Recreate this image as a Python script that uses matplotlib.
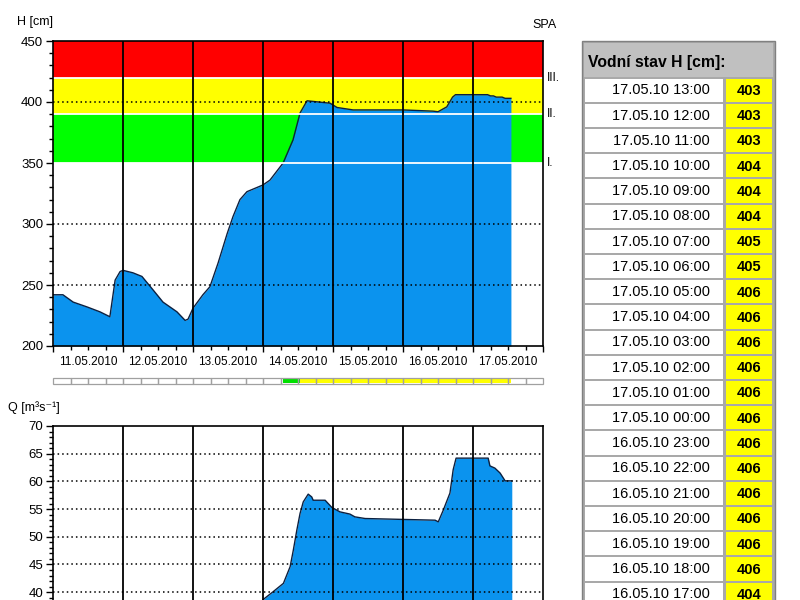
import numpy as np
import matplotlib
matplotlib.use('Agg')
import matplotlib.pyplot as plt
from matplotlib import font_manager
from matplotlib.patches import Rectangle
from matplotlib.ticker import FixedLocator, MultipleLocator, FuncFormatter

names = {f.name for f in font_manager.fontManager.ttflist}
NARROW = 'Liberation Sans Narrow' if 'Liberation Sans Narrow' in names else 'Liberation Sans'
plt.rcParams['font.family'] = ['Liberation Sans', 'DejaVu Sans']

# ---------------- data ----------------
days = ['11.05.2010', '12.05.2010', '13.05.2010', '14.05.2010',
        '15.05.2010', '16.05.2010', '17.05.2010']

# water level H [cm], time in hours from 11.05.2010 00:00
h_t = [0, 3.4, 6.9, 11.7, 16.1, 19.5, 21.3, 23, 24, 27.4, 30.5, 34.3, 37.7,
       42.5, 45.3, 46.3, 48, 51.4, 53.8, 56.6, 59.7, 61.7, 64.1, 66.5, 72,
       74.4, 78.9, 82.3, 84.7, 87.1, 89.1, 95, 97.4, 102.9, 120, 130.3, 132,
       135, 137, 138, 149, 150, 151, 152, 154, 155, 157]
h_v = [242, 242, 236, 232, 228, 224, 254, 261, 262, 260, 257, 246, 236,
       228, 221, 222, 231, 242, 248.6, 268, 292, 306, 320, 326.5, 332,
       336, 350, 369, 391, 401, 400.5, 399, 395.5, 393.5, 393.5, 392.5, 392,
       396, 404, 406, 406, 405, 405, 404, 404, 403, 403]

# discharge Q [m3/s]
q_t = [0, 19.5, 24, 46, 56, 66, 72.1, 75.5, 79, 81.3, 82.4, 83.6, 84.7, 85.8,
       87.5, 88.7, 89.2, 93.3, 95.6, 98.4, 101.8, 103.5, 107, 131, 132.1,
       133.8, 136.1, 137.2, 138.2, 149.2, 149.8, 151.5, 153.3, 155, 157.3]
q_v = [14, 12, 19, 11, 18, 34, 38.7, 40.1, 41.6, 44.6, 47.6, 51.2, 54.2, 56.3,
       57.7, 57.2, 56.6, 56.6, 55.3, 54.5, 54.1, 53.6, 53.3, 53.0, 52.7,
       54.8, 57.9, 62.1, 64.2, 64.2, 62.8, 62.4, 61.5, 60.1, 60.1]

# flood stages (SPA) thresholds
spa_levels = [350, 390, 420]
spa_labels = ['I.', 'II.', 'III.']
spa_colors = ['#00ff00', '#ffff00', '#ff0000']

# table
tab_times = ['17.05.10 13:00', '17.05.10 12:00', '17.05.10 11:00', '17.05.10 10:00',
             '17.05.10 09:00', '17.05.10 08:00', '17.05.10 07:00', '17.05.10 06:00',
             '17.05.10 05:00', '17.05.10 04:00', '17.05.10 03:00', '17.05.10 02:00',
             '17.05.10 01:00', '17.05.10 00:00', '16.05.10 23:00', '16.05.10 22:00',
             '16.05.10 21:00', '16.05.10 20:00', '16.05.10 19:00', '16.05.10 18:00',
             '16.05.10 17:00']
tab_vals = [403, 403, 403, 404, 404, 404, 405, 405, 406, 406, 406, 406, 406,
            406, 406, 406, 406, 406, 406, 406, 404]

BLUE = '#0b93ee'
OUTLINE = '#0b2040'
DOT = (0, (1, 2.0))
NFAM = [NARROW, 'DejaVu Sans']

fig = plt.figure(figsize=(8, 6), dpi=100)

def fbox(x0, y0, x1, y1):
    return [x0 / 800, 1 - y1 / 600, (x1 - x0) / 800, (y1 - y0) / 600]

# ---------------- table (pixel overlay) ----------------
axT = fig.add_axes([0, 0, 1, 1], zorder=-5)
axT.set_xlim(0, 800)
axT.set_ylim(600, 0)
axT.axis('off')
axT.add_patch(Rectangle((582, 41), 193, 600, fc='#a9a9a9', ec='#808080', lw=1))
axT.add_patch(Rectangle((584, 43), 189, 34, fc='#c0c0c0', lw=0))
axT.text(588, 62, 'Vodní stav H [cm]:', fontsize=11.3, fontweight='bold',
         ha='left', va='center', color='black')
pitch = 25.2
for i, (tt, vv) in enumerate(zip(tab_times, tab_vals)):
    top = 78.5 + pitch * i
    axT.add_patch(Rectangle((585, top), 138, 23.3, fc='white', lw=0))
    axT.add_patch(Rectangle((726, top), 46, 23.3, fc='#ffff00', lw=0))
    axT.text(710, top + 12, tt, fontsize=10.5, family=NFAM,
             ha='right', va='center', color='black')
    axT.text(749, top + 12.5, str(vv), fontsize=10.5, fontweight='bold',
             family=NFAM, ha='center', va='center', color='black')

# ---------------- H chart ----------------
axH = fig.add_axes(fbox(53, 41, 543, 346))
axH.set_xlim(0, 168)
axH.set_ylim(200, 450)
lo = spa_levels + [450]
for k in range(3):
    axH.axhspan(lo[k], lo[k + 1], color=spa_colors[k], lw=0, zorder=0)
axH.fill_between(h_t, h_v, 200, color=BLUE, lw=0, zorder=1)
axH.plot(h_t, h_v, color=OUTLINE, lw=1, zorder=2)
for y in spa_levels:
    axH.axhline(y, color='white', lw=1.3, zorder=3)
for y in [250, 300, 400]:
    axH.axhline(y, color='black', lw=1.1, ls=DOT, zorder=4)
for d in range(24, 168, 24):
    axH.axvline(d, color='black', lw=1.3, zorder=5)
for y, lab in zip(spa_levels, spa_labels):
    axH.text(1.008, y, lab, transform=axH.get_yaxis_transform(),
             ha='left', va='center', fontsize=8.5, family=NFAM)

# ---------------- Q chart ----------------
axQ = fig.add_axes(fbox(53, 426, 543, 730.7))
axQ.set_xlim(0, 168)
axQ.set_ylim(15, 70)
axQ.fill_between(q_t, q_v, 15, color=BLUE, lw=0, zorder=1)
axQ.plot(q_t, q_v, color=OUTLINE, lw=1, zorder=2)
for y in range(20, 70, 5):
    axQ.axhline(y, color='black', lw=1.1, ls=DOT, zorder=4)
for d in range(24, 168, 24):
    axQ.axvline(d, color='black', lw=1.3, zorder=5)

major_x = list(range(0, 169, 24))
minor_x = [h for h in range(6, 168, 6) if h % 24 != 0]
minor_lab = [days[h // 24] if h % 24 == 12 else '' for h in minor_x]
for ax, ymaj, ymin in [(axH, 50, 10), (axQ, 5, 1)]:
    for s in ax.spines.values():
        s.set_linewidth(1.2)
        s.set_color('black')
        s.set_zorder(6)
    ax.yaxis.set_major_locator(MultipleLocator(ymaj))
    ax.yaxis.set_minor_locator(MultipleLocator(ymin))
    ax.set_xticks(major_x)
    ax.set_xticklabels([])
    ax.set_xticks(minor_x, minor_lab, minor=True)
    ax.tick_params(axis='y', which='major', direction='out', length=5, width=1,
                   pad=2, labelsize=9.5)
    ax.tick_params(axis='y', which='minor', direction='out', length=3, width=1)
    ax.tick_params(axis='x', which='major', direction='out', length=4.5, width=1)
    ax.tick_params(axis='x', which='minor', direction='out', length=3, width=1,
                   pad=4, labelsize=8.5)
# lower chart: only the labels that fall inside the visible picture
axQ.yaxis.set_major_formatter(FuncFormatter(lambda v, p: f'{v:.0f}' if v >= 40 else ''))
axQ.tick_params(axis='x', which='both', labelbottom=False)
for ax in (axH, axQ):
    for lab in ax.get_yticklabels():
        lab.set_fontfamily(NFAM)
    for lab in ax.get_xticklabels(minor=True):
        lab.set_fontfamily(NFAM)

# ---------------- status bar ----------------
def crossing(level):
    for i in range(1, len(h_v)):
        if h_v[i - 1] < level <= h_v[i]:
            return h_t[i - 1] + (level - h_v[i - 1]) / (h_v[i] - h_v[i - 1]) * (h_t[i] - h_t[i - 1])
    return None

axS = fig.add_axes(fbox(53, 378, 543, 384))
axS.set_xlim(0, 168)
axS.set_ylim(0, 1)
axS.axis('off')
t1 = crossing(spa_levels[0])
t2 = crossing(spa_levels[1])
for k in range(28):
    axS.add_patch(Rectangle((6 * k, 0), 6, 1, fc='white', ec='none', zorder=1,
                            clip_on=False))
axS.add_patch(Rectangle((t1, 0.12), t2 - t1, 0.76, fc='#00e000', lw=0, zorder=2,
                        clip_on=False))
axS.add_patch(Rectangle((t2, 0.12), h_t[-1] - t2, 0.76, fc='#ffff00', lw=0, zorder=2,
                        clip_on=False))
for k in range(28):
    axS.add_patch(Rectangle((6 * k, 0), 6, 1, fc='none', ec='#a0a0a0', lw=0.9,
                            zorder=3, clip_on=False))

# ---------------- labels ----------------
fig.text(17 / 800, 1 - 22 / 600, 'H [cm]', fontsize=9, ha='left', va='center')
fig.text(557 / 800, 1 - 25 / 600, 'SPA', fontsize=9, ha='right', va='center')
fig.text(8 / 800, 1 - 408 / 600, 'Q [m³s⁻¹]', fontsize=9, ha='left', va='center',
         family=['Liberation Sans', 'DejaVu Sans'])

fig.savefig('out.png', dpi=100, facecolor='white')
